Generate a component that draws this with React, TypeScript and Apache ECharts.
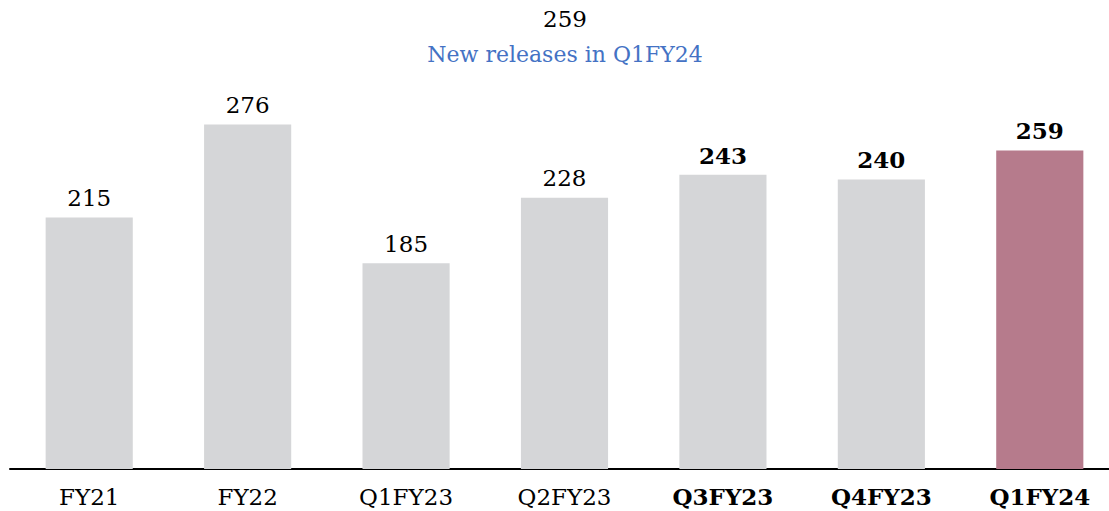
import React, { useEffect, useRef } from "react";
import * as echarts from "echarts";

const categories = ["FY21", "FY22", "Q1FY23", "Q2FY23", "Q3FY23", "Q4FY23", "Q1FY24"];
const values = [215, 276, 185, 228, 243, 240, 259];
const boldFlags = [false, false, false, false, true, true, true];
const titleText = "259";
const subtitleText = "New releases in Q1FY24";

const FONT = "'DejaVu Serif', serif";

export default function App() {
  const ref = useRef<HTMLDivElement>(null);
  useEffect(() => {
    document.body.style.margin = "0";
    document.body.style.overflow = "hidden";
    const chart = echarts.init(ref.current!, null, { renderer: "svg" });
    const last = values.length - 1;
    chart.setOption({
      animation: false,
      title: {
        text: titleText,
        subtext: subtitleText,
        left: "center",
        top: 2,
        itemGap: 13,
        textStyle: { fontFamily: FONT, fontSize: 23, fontWeight: "normal", color: "#000" },
        subtextStyle: { fontFamily: FONT, fontSize: 22, color: "#4472C4" },
      },
      grid: { left: 10, width: 1109, top: 88, bottom: 42 },
      xAxis: {
        type: "category",
        data: categories.map((c, i) => ({
          value: c,
          textStyle: { fontWeight: boldFlags[i] ? "bold" : "normal" },
        })),
        axisLine: { lineStyle: { color: "#000", width: 2 } },
        axisTick: { show: false },
        axisLabel: { fontFamily: FONT, fontSize: 23, color: "#000", margin: 16 },
      },
      yAxis: {
        type: "value",
        min: 50,
        max: 300,
        show: false,
        splitLine: { show: false },
      },
      series: [
        {
          type: "bar",
          barWidth: "55%",
          data: values.map((v, i) => ({
            value: v,
            itemStyle: { color: i === last ? "#B67B8C" : "#D5D6D8" },
            label: { fontWeight: boldFlags[i] ? "bold" : "normal" },
          })),
          label: {
            show: true,
            position: "top",
            distance: 8,
            fontFamily: FONT,
            fontSize: 23,
            color: "#000",
          },
        },
      ],
    });
    return () => chart.dispose();
  }, []);
  return <div ref={ref} style={{ width: 1130, height: 511 }} />;
}
